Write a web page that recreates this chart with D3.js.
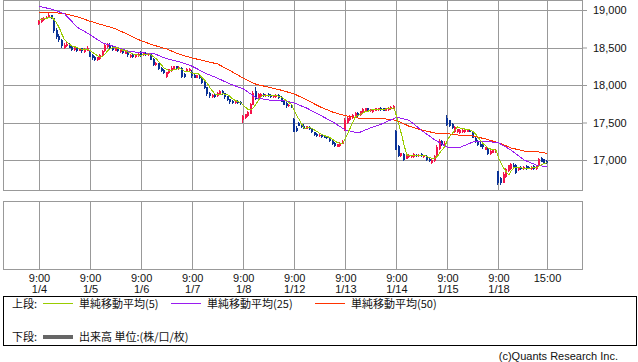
<!DOCTYPE html>
<html>
<head>
<meta charset="utf-8">
<script src="https://cdn.jsdelivr.net/npm/d3@7"></script>
<style>
  body { margin: 0; background: #fff; }
  svg text { font-family: "Liberation Sans", Arial, "Noto Sans CJK JP", sans-serif; font-size: 11px; fill: #111; }
  .jp { font-family: "Noto Sans CJK JP", sans-serif; }
</style>
</head>
<body>
<svg id="chart" width="638" height="362"></svg>
<script>
// day labels (one tick at 9:00 of each session, last tick 15:00)
const dates = ['1/4', '1/5', '1/6', '1/7', '1/8', '1/12', '1/13', '1/14', '1/15', '1/18'];
const priceTicks = [17000, 17500, 18000, 18500, 19000];

// 20 bars per session
const opens = [
  18810,18840,18870,18890,18900,18930,18890,18730,18650,18600,18490,18520,18540,18510,18470,18500,18460,18490,18440,18460,
  18440,18400,18380,18330,18350,18390,18450,18510,18540,18510,18460,18490,18440,18470,18420,18440,18370,18400,18370,18390,
  18440,18400,18430,18400,18420,18350,18270,18290,18230,18200,18110,18160,18190,18220,18250,18210,18230,18150,18180,18190,
  18180,18140,18100,18130,18100,18040,17970,17890,17840,17870,17850,17880,17920,17890,17850,17810,17790,17760,17790,17780,
  17530,17560,17590,17620,17740,17920,17830,17850,17880,17850,17880,17870,17840,17840,17870,17840,17790,17760,17720,17740,
  17550,17430,17500,17480,17460,17420,17440,17420,17370,17350,17320,17340,17320,17310,17300,17260,17230,17180,17190,17220,
  17400,17490,17530,17560,17580,17630,17600,17630,17650,17690,17650,17640,17660,17670,17700,17690,17660,17670,17680,17690,
  17390,17190,17050,17080,17020,17040,17040,17040,17070,17050,17080,17040,17060,17020,16960,16990,17060,17150,17250,17190,
  17560,17530,17480,17370,17380,17360,17370,17370,17380,17400,17370,17300,17260,17220,17200,17140,17150,17080,17100,17110,
  16850,16760,16700,16780,16850,16880,16940,16940,16870,16910,16880,16920,16910,16880,16920,16880,16920,17030,17010,16990
];
const highs = [
  18870,18900,18910,18920,18960,18940,18900,18760,18680,18620,18560,18580,18560,18530,18510,18510,18500,18500,18490,18520,
  18450,18410,18390,18380,18420,18470,18550,18560,18560,18520,18500,18500,18480,18480,18460,18450,18410,18410,18410,18440,
  18450,18440,18440,18430,18430,18360,18310,18300,18240,18210,18180,18220,18250,18260,18260,18250,18240,18160,18230,18230,
  18200,18150,18140,18140,18110,18050,17980,17910,17880,17880,17910,17930,17930,17900,17860,17820,17800,17800,17800,17790,
  17600,17620,17650,17760,17920,17980,17890,17890,17900,17880,17890,17880,17870,17880,17880,17850,17800,17770,17750,17750,
  17560,17450,17510,17490,17480,17460,17450,17430,17380,17360,17350,17350,17330,17320,17310,17270,17240,17220,17240,17270,
  17560,17570,17600,17610,17640,17640,17660,17690,17700,17700,17680,17680,17700,17700,17710,17700,17700,17710,17720,17730,
  17400,17200,17100,17090,17080,17080,17070,17090,17080,17080,17090,17070,17070,17030,17010,17070,17200,17280,17270,17250,
  17600,17540,17490,17450,17420,17420,17410,17420,17410,17410,17380,17310,17270,17240,17210,17180,17160,17130,17150,17150,
  16860,16780,16840,16890,16940,16960,16960,16950,16910,16920,16920,16940,16920,16920,16930,16930,17030,17040,17020,17000
];
const lows = [
  18800,18830,18860,18880,18890,18880,18700,18620,18580,18500,18480,18510,18490,18460,18450,18440,18450,18430,18430,18450,
  18370,18340,18320,18320,18340,18380,18440,18500,18480,18460,18450,18440,18430,18420,18410,18380,18360,18360,18360,18380,
  18380,18390,18390,18390,18330,18250,18260,18200,18170,18150,18090,18150,18180,18210,18200,18200,18100,18100,18170,18180,
  18100,18090,18090,18080,18020,17950,17860,17830,17830,17830,17840,17870,17870,17820,17790,17750,17750,17750,17750,17740,
  17490,17550,17580,17610,17730,17800,17820,17840,17840,17840,17840,17830,17830,17830,17820,17770,17730,17700,17710,17700,
  17370,17370,17450,17430,17410,17410,17400,17360,17320,17310,17310,17300,17290,17280,17240,17200,17180,17170,17180,17210,
  17390,17480,17520,17550,17570,17580,17590,17620,17640,17640,17640,17630,17650,17660,17660,17650,17650,17660,17670,17680,
  17130,17040,17040,16990,17010,17030,17030,17030,17040,17040,17040,17030,16990,16970,16950,16980,17050,17140,17190,17180,
  17460,17440,17420,17360,17360,17350,17360,17360,17370,17370,17290,17230,17190,17170,17150,17130,17070,17070,17090,17100,
  16670,16670,16690,16760,16840,16870,16900,16820,16860,16870,16870,16870,16880,16870,16870,16870,16910,16970,16950,16950
];
const closes = [
  18860,18890,18900,18910,18940,18890,18720,18640,18600,18520,18540,18550,18500,18470,18500,18460,18490,18450,18480,18500,
  18380,18360,18340,18370,18400,18460,18530,18540,18500,18470,18490,18450,18470,18430,18450,18400,18400,18370,18400,18420,
  18400,18430,18400,18420,18340,18270,18300,18220,18190,18160,18170,18210,18230,18250,18210,18240,18110,18110,18220,18220,
  18120,18100,18130,18090,18030,17960,17880,17850,17870,17840,17900,17920,17880,17840,17800,17770,17760,17790,17760,17750,
  17590,17610,17640,17750,17900,17820,17880,17880,17850,17870,17850,17840,17860,17870,17830,17780,17740,17720,17740,17710,
  17380,17390,17460,17440,17420,17450,17410,17370,17340,17320,17340,17310,17300,17290,17250,17220,17190,17210,17230,17260,
  17540,17560,17580,17600,17630,17590,17650,17680,17690,17650,17670,17670,17690,17690,17670,17660,17690,17700,17710,17720,
  17140,17060,17090,17000,17070,17070,17060,17080,17050,17070,17050,17060,17000,16990,17000,17060,17180,17250,17200,17230,
  17470,17450,17430,17440,17410,17400,17400,17410,17400,17380,17300,17240,17200,17180,17170,17170,17080,17120,17140,17140,
  16690,16690,16820,16880,16930,16950,16910,16830,16900,16880,16910,16880,16890,16910,16880,16920,17020,16980,16960,16960
];

// 25 and 50 bar averages read every 5 bars (last point = bar 199)
const maIndex = [0,5,10,15,20,25,30,35,40,45,50,55,60,65,70,75,80,85,90,95,100,105,110,115,120,125,130,135,140,145,150,155,160,165,170,175,180,185,190,195,199];
const ma25 = [19050,19010,18950,18770,18670,18560,18510,18450,18430,18420,18350,18310,18250,18160,18090,18010,17950,17830,17800,17800,17760,17690,17600,17510,17400,17360,17430,17490,17570,17530,17390,17270,17170,17170,17240,17250,17230,17130,17000,16930,16910];
const ma50 = [18970,18970,18950,18910,18850,18800,18750,18670,18590,18530,18480,18410,18360,18320,18280,18190,18090,18010,17970,17930,17880,17800,17710,17640,17590,17560,17550,17550,17530,17450,17400,17360,17350,17330,17320,17280,17230,17160,17120,17110,17090];

const n = closes.length;
const ma5 = closes.map((c, i) => d3.mean(closes.slice(Math.max(0, i - 4), i + 1)));

const svg = d3.select('#chart');

const x = d3.scalePoint().domain(d3.range(n)).range([39, 547]);
const y = d3.scaleLinear().domain([17000, 19000]).range([160, 10]);
const px = (i) => Math.round(x(i));

const dayIdx = dates.map((d, k) => k * 20);
const tickIdx = dayIdx.concat([n - 1]);
const gridColor = '#999';

// upper panel grid
const upper = svg.append('g').attr('shape-rendering', 'crispEdges');
upper.selectAll('line.h')
  .data(priceTicks)
  .join('line')
  .attr('class', 'h')
  .attr('x1', 3).attr('x2', 583)
  .attr('y1', (d) => Math.round(y(d)) + 0.5).attr('y2', (d) => Math.round(y(d)) + 0.5)
  .attr('stroke', gridColor);
upper.selectAll('line.v')
  .data(tickIdx)
  .join('line')
  .attr('class', 'v')
  .attr('x1', (d) => px(d) + 0.5).attr('x2', (d) => px(d) + 0.5)
  .attr('y1', 0).attr('y2', 190)
  .attr('stroke', gridColor);
upper.append('rect')
  .attr('x', 3.5).attr('y', 0.5).attr('width', 579).attr('height', 189.5)
  .attr('fill', 'none').attr('stroke', gridColor);

// y axis on the right
const yAxis = svg.append('g')
  .attr('transform', 'translate(583,0)')
  .call(d3.axisRight(y).tickValues(priceTicks).tickSize(4).tickPadding(6).tickFormat(d3.format(',')));
yAxis.select('.domain').remove();
yAxis.selectAll('line').attr('stroke', gridColor);
yAxis.selectAll('text').style('font-size', '11px').attr('fill', '#111');

// candles
const upColor = '#f5144b', downColor = '#0a3296';
const candles = svg.append('g').attr('shape-rendering', 'crispEdges')
  .selectAll('g')
  .data(d3.range(n))
  .join('g');
candles.append('line')
  .attr('x1', (i) => px(i) - 0.5).attr('x2', (i) => px(i) - 0.5)
  .attr('y1', (i) => y(highs[i])).attr('y2', (i) => y(lows[i]))
  .attr('stroke', (i) => (closes[i] >= opens[i] ? upColor : downColor));
candles.append('rect')
  .attr('x', (i) => px(i) - 1)
  .attr('width', 2)
  .attr('y', (i) => y(Math.max(opens[i], closes[i])))
  .attr('height', (i) => Math.max(1, Math.abs(y(opens[i]) - y(closes[i]))))
  .attr('fill', (i) => (closes[i] >= opens[i] ? upColor : downColor));

// moving averages
const lineOf = (vals, idx) =>
  d3.line().x((d, k) => x(idx[k])).y((d) => y(d))(vals);

const maG = svg.append('g').attr('fill', 'none').attr('shape-rendering', 'crispEdges');
maG.append('path').attr('d', lineOf(ma50, maIndex)).attr('stroke', '#ff3300');
maG.append('path').attr('d', lineOf(ma25, maIndex)).attr('stroke', '#9a1cf0');
maG.append('path').attr('d', lineOf(ma5, d3.range(n))).attr('stroke', '#99cc00');

// lower panel (volume, empty)
const lower = svg.append('g').attr('shape-rendering', 'crispEdges');
lower.selectAll('line')
  .data(tickIdx)
  .join('line')
  .attr('x1', (d) => px(d) + 0.5).attr('x2', (d) => px(d) + 0.5)
  .attr('y1', 201).attr('y2', 270)
  .attr('stroke', gridColor);
lower.append('rect')
  .attr('x', 3.5).attr('y', 201.5).attr('width', 579).attr('height', 68)
  .attr('fill', 'none').attr('stroke', gridColor);

// x axis labels
const xAxis = svg.append('g')
  .attr('transform', 'translate(0,270)')
  .call(d3.axisBottom(x).tickValues(tickIdx).tickSize(0).tickPadding(4)
    .tickFormat((i) => (i === n - 1 ? '15:00' : '9:00')));
xAxis.select('.domain').remove();
xAxis.selectAll('text').style('font-size', '11px').attr('fill', '#111')
  .each(function (i) {
    const k = dayIdx.indexOf(i);
    if (k >= 0) {
      d3.select(this).append('tspan').attr('x', 0).attr('dy', '1.0em').text(dates[k]);
    }
  });

// legend
const leg = svg.append('g');
leg.append('rect')
  .attr('x', 3.5).attr('y', 296.5).attr('width', 633).attr('height', 49)
  .attr('fill', 'none').attr('stroke', '#000').attr('shape-rendering', 'crispEdges');

const legendItems = [
  { label: '単純移動平均(5)', color: '#99cc00', x: 43 },
  { label: '単純移動平均(25)', color: '#9a1cf0', x: 171 },
  { label: '単純移動平均(50)', color: '#ff3300', x: 315 }
];
leg.append('text').attr('class', 'jp').attr('x', 12).attr('y', 308).text('上段:');
legendItems.forEach((d) => {
  leg.append('line')
    .attr('x1', d.x).attr('x2', d.x + 30).attr('y1', 303.5).attr('y2', 303.5)
    .attr('stroke', d.color);
  leg.append('text').attr('class', 'jp').attr('x', d.x + 36).attr('y', 308).text(d.label);
});
leg.append('text').attr('class', 'jp').attr('x', 12).attr('y', 341).text('下段:');
leg.append('line')
  .attr('x1', 43).attr('x2', 73).attr('y1', 337).attr('y2', 337)
  .attr('stroke', '#666').attr('stroke-width', 4);
leg.append('text').attr('class', 'jp').attr('x', 79).attr('y', 341).text('出来高 単位:(株/口/枚)');

svg.append('text')
  .attr('x', 618).attr('y', 360)
  .attr('text-anchor', 'end')
  .attr('fill', '#333')
  .text('(c)Quants Research Inc.');
</script>
</body>
</html>
